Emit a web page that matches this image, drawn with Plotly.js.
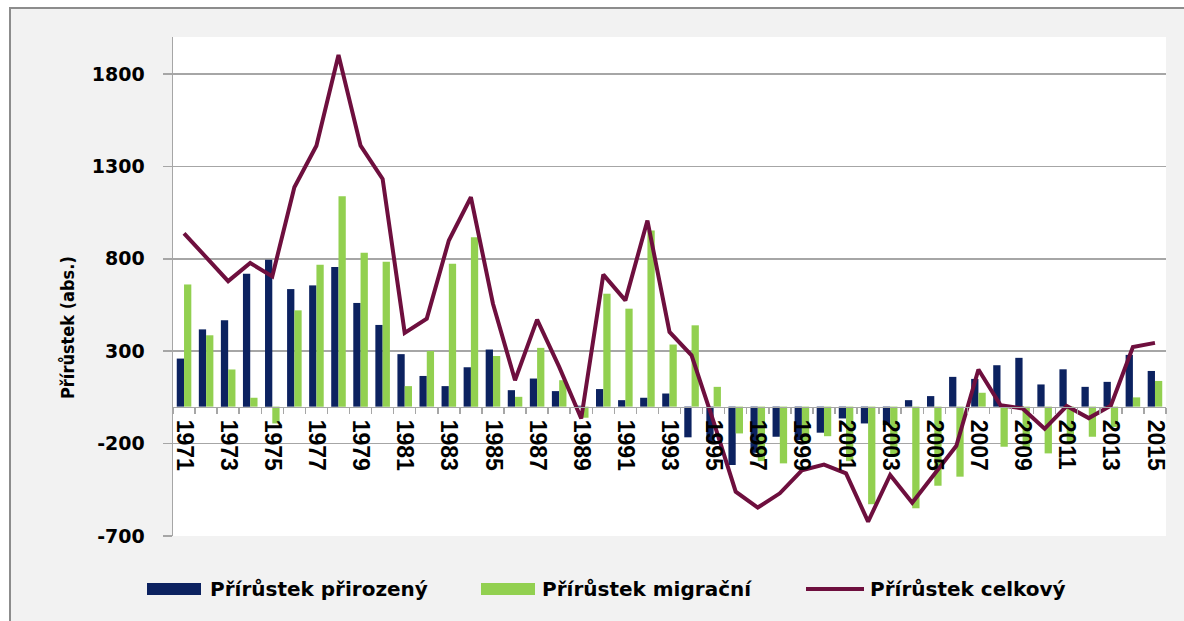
<!DOCTYPE html>
<html>
<head>
<meta charset="utf-8">
<script src="https://cdn.plot.ly/plotly-3.0.1.min.js"></script>
<style>
  html, body { margin: 0; padding: 0; background: #ffffff; }
  #frame {
    position: absolute; left: 9px; top: 7px; width: 1200px; height: 640px;
    background: #f2f2f2; border: 2px solid #8c8c8c;
  }
  #chart { position: absolute; left: 0; top: 0; width: 1184px; height: 621px; }
</style>
</head>
<body>
<div id="frame"></div>
<div id="chart"></div>
<script>
// Data
const years = [
  1971, 1972, 1973, 1974, 1975, 1976, 1977, 1978, 1979, 1980,
  1981, 1982, 1983, 1984, 1985, 1986, 1987, 1988, 1989, 1990,
  1991, 1992, 1993, 1994, 1995, 1996, 1997, 1998, 1999, 2000,
  2001, 2002, 2003, 2004, 2005, 2006, 2007, 2008, 2009, 2010,
  2011, 2012, 2013, 2014, 2015,
];
const prirozeny = [
  260, 418, 467, 719, 795, 636, 656, 755, 561, 442,
  284, 166, 111, 213, 309, 89, 152, 84, 5, 95,
  35, 48, 71, -166, -190, -316, -250, -163, -181, -141,
  -64, -91, -100, 35, 57, 161, 150, 224, 264, 120,
  202, 107, 134, 280, 193,
];
const migracni = [
  661, 386, 201, 48, -91, 521, 768, 1138, 833, 784,
  111, 301, 773, 917, 274, 53, 318, 143, -60, 611,
  530, 953, 336, 440, 107, -145, -295, -307, -200, -160,
  -295, -528, -270, -550, -428, -379, 75, -217, -230, -253,
  -200, -163, -110, 50, 139,
];
const celkovy = [
  938, 809, 679, 777, 705, 1187, 1412, 1903, 1412, 1232,
  399, 476, 899, 1133, 557, 143, 471, 215, -64, 714,
  575, 1007, 404, 278, -82, -460, -546, -469, -345, -314,
  -361, -622, -370, -520, -370, -212, 201, 8, -10, -120,
  3, -62, 5, 323, 345,
];
const yTicks = [-700, -200, 300, 800, 1300, 1800];
const xTickYears = [1971, 1973, 1975, 1977, 1979, 1981, 1983, 1985, 1987, 1989,
  1991, 1993, 1995, 1997, 1999, 2001, 2003, 2005, 2007, 2009, 2011, 2013, 2015];
const seriesNames = ['Přírůstek přirozený', 'Přírůstek migrační', 'Přírůstek celkový'];

const NAVY = '#0c2260';
const GREEN = '#92d050';
const MAROON = '#6e0f3e';
const GRID = '#a6a6a6';

const W = 1184, H = 621;
const margin = { l: 173, r: 18, t: 37, b: 85 };
const yRange = [-700, 2000];

// pixel -> paper helpers for the hand-drawn legend
const px2x = (px) => (px - margin.l) / (W - margin.l - margin.r);
const py2y = (py) => (H - margin.b - py) / (H - margin.t - margin.b);

const traces = [
  {
    type: 'bar', x: years, y: prirozeny, name: seriesNames[0],
    marker: { color: NAVY }, hoverinfo: 'x+y',
  },
  {
    type: 'bar', x: years, y: migracni, name: seriesNames[1],
    marker: { color: GREEN }, hoverinfo: 'x+y',
  },
  {
    type: 'scatter', mode: 'lines', x: years, y: celkovy, name: seriesNames[2],
    line: { color: MAROON, width: 4 },
  },
];

// legend drawn by hand to get the wide swatches
const legendItems = [
  { kind: 'rect', color: NAVY, x0: 147, x1: 201, tx: 208, text: seriesNames[0] },
  { kind: 'rect', color: GREEN, x0: 481, x1: 535, tx: 540, text: seriesNames[1] },
  { kind: 'line', color: MAROON, x0: 806, x1: 864, tx: 868, text: seriesNames[2] },
];
const legendY = 589;

const shapes = legendItems.map((it) => it.kind === 'rect'
  ? {
      type: 'rect', xref: 'paper', yref: 'paper',
      x0: px2x(it.x0), x1: px2x(it.x1), y0: py2y(legendY + 6), y1: py2y(legendY - 6),
      fillcolor: it.color, line: { width: 0 },
    }
  : {
      type: 'line', xref: 'paper', yref: 'paper',
      x0: px2x(it.x0), x1: px2x(it.x1), y0: py2y(legendY), y1: py2y(legendY),
      line: { color: it.color, width: 4 },
    });

const annotations = legendItems.map((it) => ({
  xref: 'paper', yref: 'paper', x: px2x(it.tx), y: py2y(legendY),
  xanchor: 'left', yanchor: 'middle', showarrow: false,
  text: '<b>' + it.text + '</b>',
  font: { family: 'DejaVu Sans, sans-serif', size: 20, color: '#000' },
}));

// y axis title, placed like the original (a bit below the middle)
annotations.push({
  xref: 'paper', yref: 'paper', x: px2x(67), y: py2y(328),
  xanchor: 'center', yanchor: 'middle', showarrow: false, textangle: -90,
  text: '<b>Přírůstek (abs.)</b>',
  font: { family: 'DejaVu Sans Condensed, Liberation Sans, sans-serif', size: 18, color: '#000' },
});

const layout = {
  width: W, height: H,
  margin: margin,
  paper_bgcolor: 'rgba(0,0,0,0)',
  plot_bgcolor: '#ffffff',
  showlegend: false,
  barmode: 'group',
  bargap: 0.34,
  bargroupgap: 0,
  xaxis: {
    range: [1970.5, 2015.5],
    anchor: 'free',
    position: (0 - yRange[0]) / (yRange[1] - yRange[0]),
    tickmode: 'array',
    tickvals: xTickYears,
    ticktext: xTickYears.map(String),
    tickangle: 90,
    ticks: '',
    showgrid: false,
    zeroline: false,
    showline: true, linecolor: GRID, linewidth: 1.5,
    minor: {
      tickmode: 'linear', tick0: 1970.5, dtick: 1,
      ticks: 'outside', ticklen: 6, tickcolor: GRID, tickwidth: 1.5, showgrid: false,
    },
    ticklabelstandoff: 7,
    tickfont: { family: 'Liberation Sans, Arial, sans-serif', size: 23, color: '#000', weight: 'bold' },
    fixedrange: true,
  },
  yaxis: {
    range: yRange,
    tickmode: 'array',
    tickvals: yTicks,
    ticktext: yTicks.map(String),
    showgrid: true, gridcolor: GRID, gridwidth: 1.5,
    zeroline: false,
    showline: true, linecolor: GRID, linewidth: 1.5,
    ticks: 'outside', ticklen: 9, tickcolor: GRID, tickwidth: 1.5,
    ticklabelstandoff: 14,
    tickfont: { family: 'DejaVu Sans, sans-serif', size: 19, color: '#000', weight: 'bold' },
    fixedrange: true,
  },
  shapes: shapes,
  annotations: annotations,
};

Plotly.newPlot('chart', traces, layout, { displayModeBar: false, staticPlot: true });
</script>
</body>
</html>
